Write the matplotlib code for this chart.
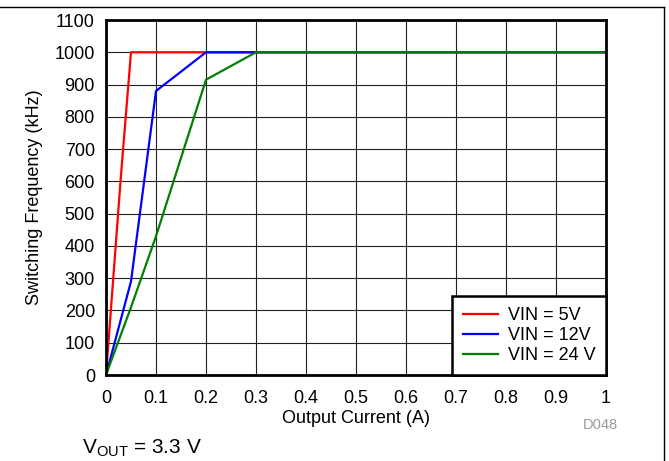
import matplotlib.pyplot as plt
from matplotlib.lines import Line2D

plt.rcParams['font.family'] = ['Liberation Sans', 'DejaVu Sans']

# output current (A) and switching frequency (kHz) per input voltage
x_5v = [0, 0.03, 0.05, 0.2, 0.3, 1.0]
f_5v = [0, 620, 1000, 1000, 1000, 1000]

x_12v = [0, 0.05, 0.1, 0.2, 0.3, 1.0]
f_12v = [0, 290, 880, 1000, 1000, 1000]

x_24v = [0, 0.05, 0.1, 0.2, 0.3, 1.0]
f_24v = [0, 210, 430, 915, 1000, 1000]

labels = ['VIN = 5V', 'VIN = 12V', 'VIN = 24 V']
x_ticks = [0, 0.1, 0.2, 0.3, 0.4, 0.5, 0.6, 0.7, 0.8, 0.9, 1.0]
x_tick_labels = ['0', '0.1', '0.2', '0.3', '0.4', '0.5', '0.6', '0.7', '0.8', '0.9', '1']
y_ticks = list(range(0, 1101, 100))

fs = 13

fig = plt.figure(figsize=(6.69, 4.61), dpi=100)
ax = fig.add_axes([106 / 669, 1 - 375 / 461, 500 / 669, 355 / 461])

ax.plot(x_5v, f_5v, color='#ff0000', lw=1.6, label=labels[0])
ax.plot(x_12v, f_12v, color='#0000ff', lw=1.6, label=labels[1])
ax.plot(x_24v, f_24v, color='#008000', lw=1.6, label=labels[2])

ax.set_xlim(0, 1)
ax.set_ylim(0, 1100)
ax.set_xticks(x_ticks)
ax.set_xticklabels(x_tick_labels)
ax.set_yticks(y_ticks)
ax.grid(True, color='#222222', lw=0.8)
ax.set_axisbelow(True)
ax.tick_params(length=0, labelsize=fs)
ax.tick_params(axis='x', pad=11)
ax.tick_params(axis='y', pad=8)
for s in ax.spines.values():
    s.set_linewidth(2)
    s.set_color('black')

ax.set_xlabel('Output Current (A)', fontsize=fs, labelpad=2)
ax.set_ylabel('Switching Frequency (kHz)', fontsize=fs, labelpad=8)

leg = ax.legend(loc='lower right', fontsize=fs, frameon=True, fancybox=False,
                borderaxespad=0, handlelength=1.9, handletextpad=0.55,
                labelspacing=0.17, borderpad=0.6)
leg.get_frame().set_edgecolor('black')
leg.get_frame().set_linewidth(1.8)
leg.get_frame().set_alpha(1)

fig.text(600 / 669, 1 - 425 / 461, 'D048', fontsize=10.5, color='#999999', ha='center', va='center')
fig.text(82 / 669, 1 - 448 / 461, r'V$_{\mathregular{OUT}}$ = 3.3 V', fontsize=15, ha='left', va='center')

# page frame lines
fig.add_artist(Line2D([0, 663.5 / 669], [1 - 7 / 461, 1 - 7 / 461], color='black', lw=1))
fig.add_artist(Line2D([663.5 / 669, 663.5 / 669], [0, 1 - 7 / 461], color='black', lw=1))

fig.savefig('out.png', dpi=100)
